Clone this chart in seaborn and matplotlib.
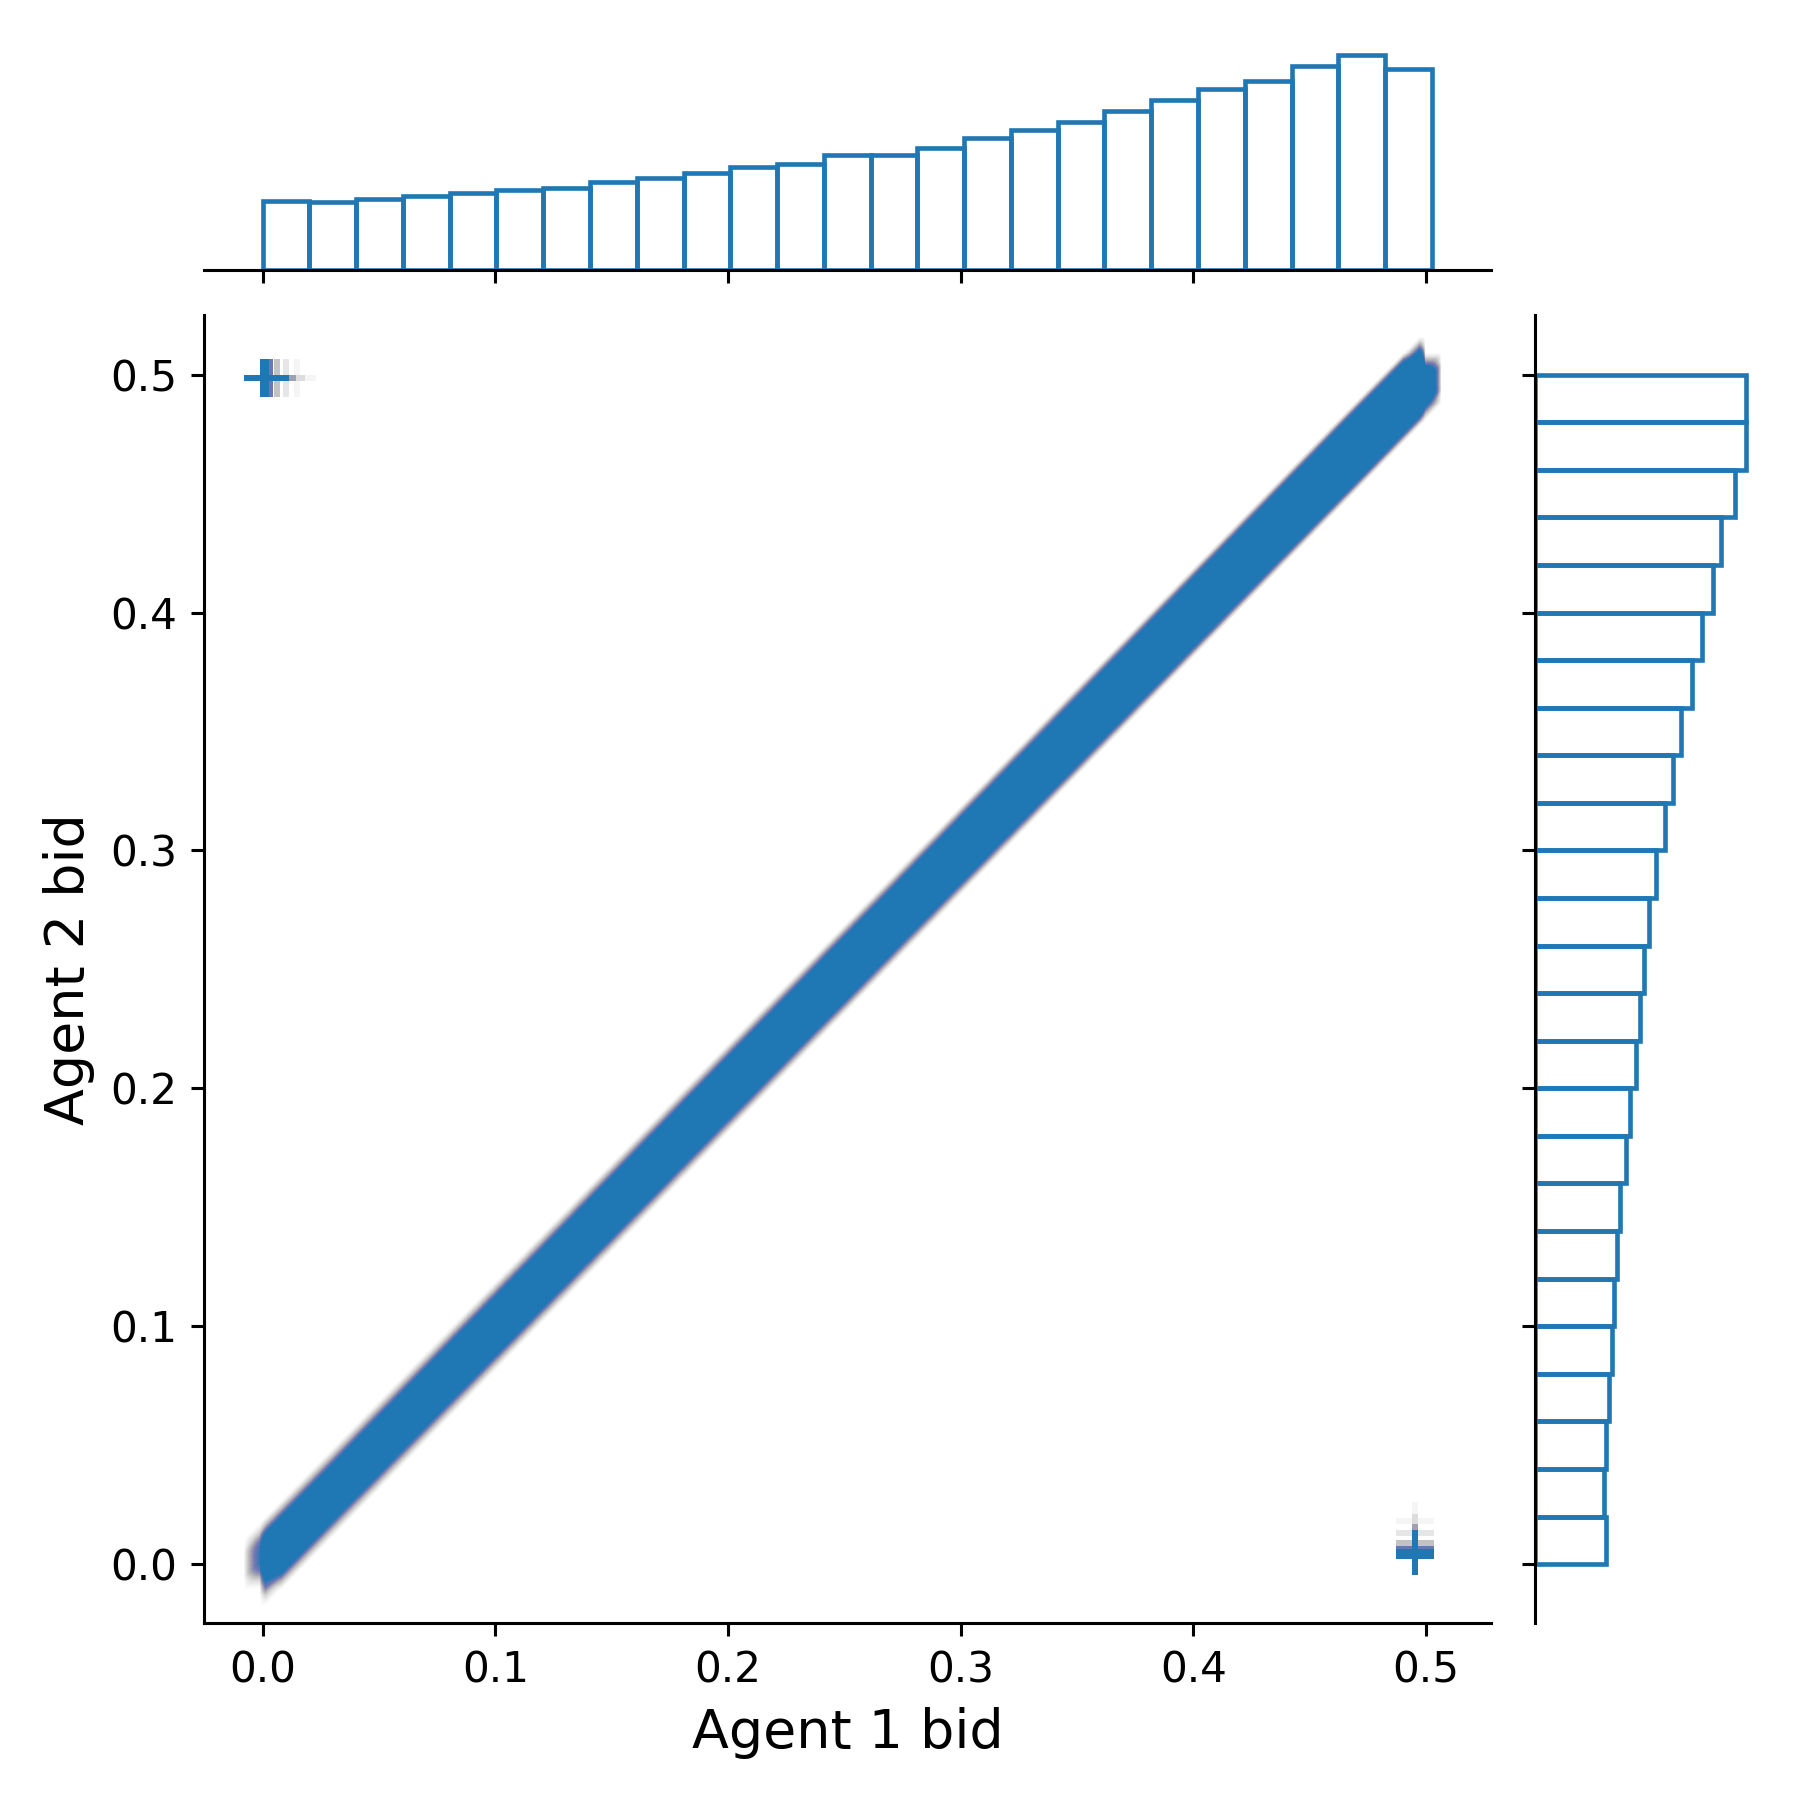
import numpy as np
import pandas as pd
import matplotlib
matplotlib.use("Agg")
import matplotlib.pyplot as plt
import seaborn as sns

# bin heights (relative counts, 25 bins)
x_counts = [60, 59, 62, 64, 67, 69, 71, 76, 80, 84, 89, 92, 100, 100, 106,
            114, 121, 128, 138, 147, 157, 164, 177, 186, 174]
y_counts = [62, 60, 62, 64, 67, 69, 71, 74, 79, 83, 88, 91, 95, 99, 105,
            113, 120, 127, 137, 145, 155, 162, 174, 184, 184]
x_range = (0.0, 0.5025)
y_range = (0.0, 0.5)
band_range = (0.0, 0.4985)

# spread of agent 2 bid around agent 1 bid along the diagonal
band_offsets = [0.0, 0.0005, -0.0005, 0.001, -0.001, 0.0015, -0.0015,
                0.002, -0.002, 0.0025, -0.0025, 0.003, -0.003, 0.0035,
                -0.0035, 0.004, -0.004, 0.0045, -0.0045, 0.005, -0.005,
                0.0055, -0.0055, 0.006, -0.006, 0.007, -0.007, 0.008,
                -0.008, 0.0095, -0.0095]

# off-diagonal clusters: (0, 0.5) and (0.5, 0)
clusterA_x = [0.0, 0.0015, 0.003, 0.006, 0.010, 0.015]
clusterA_n = [1500, 400, 150, 60, 25, 10]
clusterA_y = 0.4987
clusterB_y = [0.0035, 0.005, 0.0065, 0.009, 0.013, 0.018]
clusterB_n = [1500, 400, 150, 60, 25, 10]
clusterB_x = 0.4953

scale = 60
n_bins = len(x_counts)
band_edges = np.linspace(*band_range, n_bins + 1)

xs, ys = [], []
for i, c in enumerate(x_counts):
    n = c * scale
    bx = np.linspace(band_edges[i], band_edges[i + 1], n, endpoint=False)
    xs.append(bx)
    ys.append(bx + np.resize(band_offsets, n))
for xv, n in zip(clusterA_x, clusterA_n):
    xs.append(np.full(n, xv))
    ys.append(np.full(n, clusterA_y))
for yv, n in zip(clusterB_y, clusterB_n):
    xs.append(np.full(n, clusterB_x))
    ys.append(np.full(n, yv))

df = pd.DataFrame({"Agent 1 bid": np.concatenate(xs),
                   "Agent 2 bid": np.concatenate(ys)})

x_edges = np.linspace(*x_range, n_bins + 1)
y_edges = np.linspace(*y_range, n_bins + 1)
marg_x = pd.DataFrame({"bid": (x_edges[:-1] + x_edges[1:]) / 2, "count": x_counts})
marg_y = pd.DataFrame({"bid": (y_edges[:-1] + y_edges[1:]) / 2, "count": y_counts})

g = sns.JointGrid(data=df, x="Agent 1 bid", y="Agent 2 bid", height=6.5)
sns.scatterplot(data=df, x="Agent 1 bid", y="Agent 2 bid", marker="+",
                s=100, linewidth=1.5, alpha=0.005, color="C0", ax=g.ax_joint)

sns.histplot(data=marg_x, x="bid", weights="count", bins=n_bins,
             binrange=x_range, fill=False, color="C0", linewidth=1.2,
             ax=g.ax_marg_x)
sns.histplot(data=marg_y, y="bid", weights="count", bins=n_bins,
             binrange=y_range, fill=False, color="C0", linewidth=1.2,
             ax=g.ax_marg_y)

g.ax_joint.set_xlim(-0.0252, 0.5278)
g.ax_joint.set_ylim(-0.0247, 0.525)
g.ax_joint.set_xticks([0.0, 0.1, 0.2, 0.3, 0.4, 0.5])
g.ax_joint.set_yticks([0.0, 0.1, 0.2, 0.3, 0.4, 0.5])
g.ax_joint.tick_params(labelsize=11)
g.set_axis_labels("Agent 1 bid", "Agent 2 bid", fontsize=14)

g.figure.set_size_inches(6.5, 6.5)
g.figure.subplots_adjust(left=0.1133, right=0.9761, bottom=0.0984, top=0.9752,
                         hspace=0.2, wspace=0.2)
g.figure.savefig("out.png", dpi=1800 / 6.5)
